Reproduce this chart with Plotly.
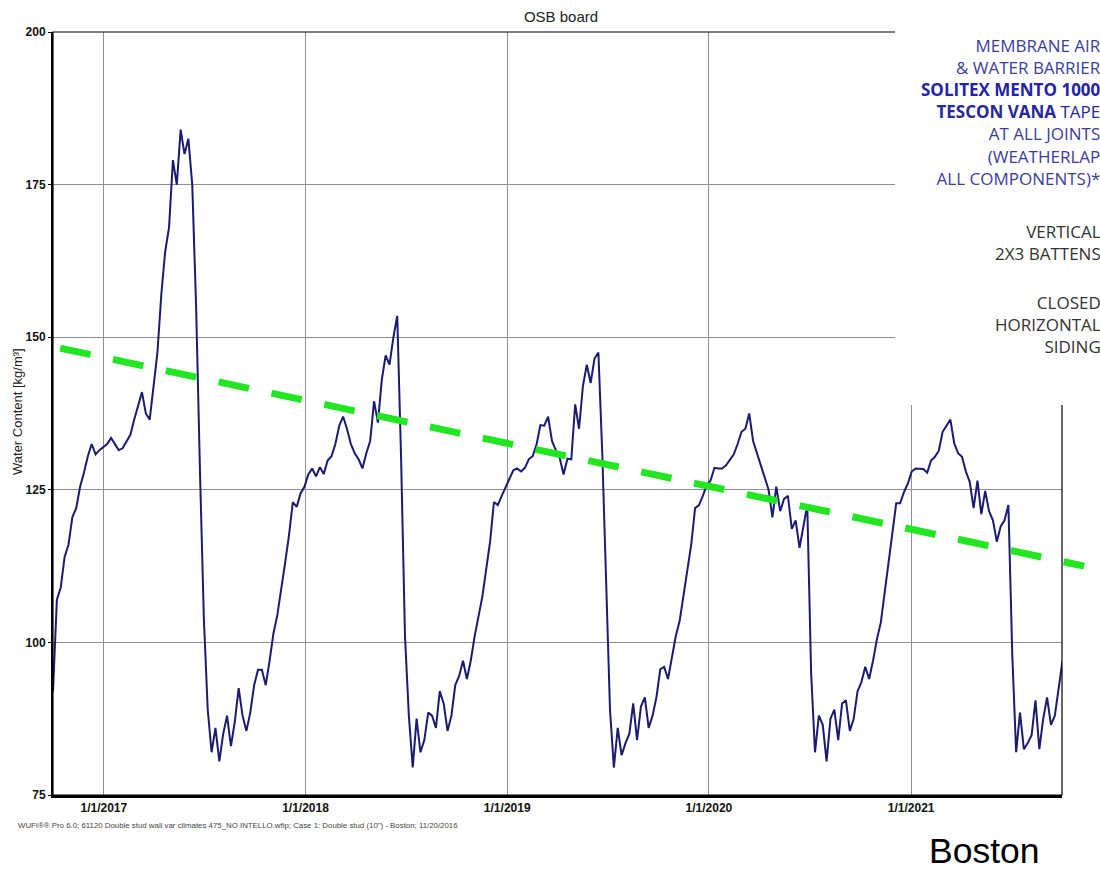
import pandas as pd
import plotly.graph_objects as go

# ---------------- data ----------------
start_date = "2016-10-01"
end_date = "2021-10-01"

# weekly readings of OSB board water content [kg/m3], starting 2016-10-01
water_content = [
    92, 107, 109, 114, 116, 120.5, 122, 125.5, 127.8, 130.5, 132.5, 130.8, 131.5,
    132, 132.5, 133.5, 132.4, 131.5, 131.8, 133, 134, 136.5, 138.8, 141, 137.5, 136.5,
    142, 147.5, 157, 164, 168, 179, 175, 184, 180, 182.5, 175, 155, 128,
    104, 89, 82, 86, 80.5, 85, 88, 83, 87, 92.5, 88, 85.5, 88.5,
    93, 95.5, 95.5, 93, 97, 101.5, 104.5, 108.5, 113, 117.5, 123, 122.2, 124.4,
    125.5, 127.5, 128.5, 127.2, 128.7, 127.6, 129.8, 130.5, 132.5, 135.5, 137, 135, 132.5,
    131, 130, 128.5, 131, 133, 139.5, 136, 143, 147, 145.5, 150, 153.5, 130,
    101, 88, 79.5, 87.5, 82, 84, 88.5, 88, 86, 92, 90, 85.5, 88,
    93, 94.5, 97, 94, 97, 101, 104, 107.5, 112, 116.5, 123, 122.5, 124,
    125.5, 126.8, 128.2, 128.5, 128, 128.6, 130, 130.5, 132.4, 135.6, 135.5, 137, 133,
    131.5, 130.2, 127.5, 130.1, 130, 139, 135, 142, 145.5, 142.5, 146.5, 147.5, 131,
    109, 89, 79.5, 86, 81.5, 83.5, 85, 90, 84, 89.5, 91, 86, 88,
    91, 95.6, 96, 94, 97.5, 101, 103.5, 107.6, 111.3, 116, 122, 122.5, 124,
    125.7, 126.5, 128.6, 128.5, 128.5, 129, 130, 130.8, 132.5, 134.5, 135, 137.5, 133,
    131, 129.3, 127, 125, 120.5, 125.5, 121.5, 123.5, 124, 118.6, 120, 115.5, 119,
    122.5, 95, 82, 88, 86.5, 80.5, 87.5, 89, 84, 90, 90.5, 85.5, 87.5,
    92, 93.5, 96, 94, 97, 100.5, 103.2, 108, 113, 117.5, 122.8, 122.8, 124.6,
    126, 128, 128.5, 128.5, 128.4, 127.8, 129.8, 130.4, 131.4, 134.5, 135.4, 136.5, 132.6,
    131, 130.4, 128, 126.3, 122, 126.5, 121, 124.8, 121.5, 120, 116.5, 119, 120,
    122.5, 98, 82, 88.5, 82.5, 83.5, 84.8, 90.5, 82.5, 87.5, 91, 86.5, 88,
    92.5, 97,
]
dates = pd.date_range(start_date, periods=len(water_content), freq="7D")

# green dashed trend line (end points)
trend_dates = ["2016-10-14", "2021-11-10"]
trend_values = [148.2, 112.5]

left_tick_vals = [75, 100, 125, 150, 175, 200]
right_tick_vals = [75, 100, 125]
right_tick_text = ["12.2", "16.26", "20.33"]

BLUE = "#3d3d99"
BLUE_BOLD = "#2323a8"
GRAY = "#333333"
panel_blocks = [
    ([("MEMBRANE AIR", BLUE, False),
      ("& WATER BARRIER", BLUE, False),
      ("SOLITEX MENTO 1000", BLUE_BOLD, True),
      ("TESCON VANA| TAPE", "#27279a", True),
      ("AT ALL JOINTS", BLUE, False),
      ("(WEATHERLAP", BLUE, False),
      ("ALL COMPONENTS)*", BLUE, False)], 111.5),
    ([("VERTICAL", GRAY, False),
      ("2X3 BATTENS", GRAY, False)], 242),
    ([("CLOSED", GRAY, False),
      ("HORIZONTAL", GRAY, False),
      ("SIDING", GRAY, False)], 324.5),
]
footer_text = ('WUFI®® Pro 6.0; 61120 Double stud wall var climates 475_NO INTELLO.wfip; '
               'Case 1: Double stud (10") - Boston; 11/20/2016')

# ---------------- layout geometry ----------------
W, H = 1100, 871
ML, MR, MT, MB = 53, 0, 32, 76
PLOT_RIGHT = 1062
paper_w = W - ML - MR
paper_h = H - MT - MB
x_dom_end = (PLOT_RIGHT - ML) / paper_w


def px(x):
    return (x - ML) / paper_w


def py(y):
    return (H - MB - y) / paper_h


t0 = pd.Timestamp(start_date)
t1 = pd.Timestamp(end_date)
ext_end = t0 + (t1 - t0) / x_dom_end

FONT = "Liberation Sans, Arial, sans-serif"
GRID = "#8f8f8f"
TICKFONT = dict(size=12, color="#111111", family=FONT, weight="bold")

fig = go.Figure()
fig.add_trace(go.Scatter(
    x=dates, y=water_content, mode="lines",
    line=dict(color="#1b1b72", width=2),
    xaxis="x", yaxis="y", showlegend=False, hoverinfo="skip",
))
fig.add_trace(go.Scatter(
    x=trend_dates, y=trend_values, mode="lines",
    line=dict(color="#22e622", width=7, dash="31px,23px"),
    xaxis="x3", yaxis="y3", showlegend=False, hoverinfo="skip",
))

fig.update_layout(
    width=W, height=H,
    margin=dict(l=ML, r=MR, t=MT, b=MB, pad=0),
    paper_bgcolor="white", plot_bgcolor="rgba(0,0,0,0)",
    font=dict(family=FONT, color="#111111"),
    title=dict(text="OSB board", x=561 / W, y=1 - 17 / H, xanchor="center",
               yanchor="middle", xref="container", yref="container",
               font=dict(size=15, family=FONT, color="#222222")),
    xaxis=dict(
        domain=[0, x_dom_end], anchor="y", type="date",
        range=[start_date, end_date],
        tick0="2017-01-01", dtick="M12", tickformat="%-m/%-d/%Y",
        showgrid=True, gridcolor=GRID, gridwidth=1, zeroline=False,
        showline=True, linecolor="black", linewidth=3,
        ticks="", tickfont=TICKFONT,
    ),
    yaxis=dict(
        domain=[0, 1], anchor="x", range=[75, 200],
        tickvals=left_tick_vals,
        showgrid=True, gridcolor=GRID, gridwidth=1, zeroline=False,
        showline=True, linecolor="black", linewidth=2,
        ticks="outside", ticklen=3, tickcolor="black",
        tickfont=TICKFONT,
    ),
    yaxis2=dict(
        overlaying="y", side="right", anchor="x", range=[75, 200],
        tickvals=right_tick_vals, ticktext=right_tick_text,
        showgrid=False, zeroline=False,
        showline=True, linecolor="black", linewidth=1.5,
        ticks="outside", ticklen=2, tickcolor="black",
        tickfont=dict(size=11.5, color="#111111", family=FONT, weight="bold"),
    ),
    xaxis3=dict(domain=[0, 1], anchor="y3", type="date",
                range=[t0, ext_end], visible=False),
    yaxis3=dict(domain=[0, 1], anchor="x3", range=[75, 200], visible=False),
)

# frame (top / right border) and the white text panel covering the upper right
fig.add_shape(type="rect", xref="x domain", yref="y domain", x0=0, x1=1, y0=0, y1=1,
              line=dict(color="black", width=1.2), layer="above")
fig.add_shape(type="rect", xref="paper", yref="paper",
              x0=px(895), x1=px(W + 20), y0=py(405), y1=py(-20),
              fillcolor="white", line=dict(width=0), layer="above")

annotations = []
annotations.append(dict(
    text="Water Content [kg/m³]", textangle=-90, xref="paper", yref="paper",
    x=px(17), y=py(412), xanchor="center", yanchor="middle", showarrow=False,
    font=dict(size=13, family=FONT, color="#222222"),
))
annotations.append(dict(
    text=footer_text, xref="paper", yref="paper", x=px(16), y=py(825),
    xanchor="left", yanchor="middle", showarrow=False,
    font=dict(size=7.85, family=FONT, color="#444444"),
))
annotations.append(dict(
    text="Boston", xref="paper", yref="paper", x=px(984), y=py(851),
    xanchor="center", yanchor="middle", showarrow=False,
    font=dict(size=35.5, family=FONT, color="black"),
))


def fmt_line(text, color, bold):
    if bold and "|" in text:
        b, rest = text.split("|", 1)
        return f'<span style="color:{color}"><b>{b}</b>{rest}</span>'
    if bold:
        return f'<span style="color:{color}"><b>{text}</b></span>'
    return f'<span style="color:{color}">{text}</span>'


for lines, yc in panel_blocks:
    annotations.append(dict(
        text="<br>".join(fmt_line(*ln) for ln in lines),
        xref="paper", yref="paper", x=px(1103), y=py(yc),
        xanchor="right", yanchor="middle", align="right", showarrow=False,
        font=dict(size=17, family="Open Sans, Lato, sans-serif", color=GRAY),
    ))
fig.update_layout(annotations=annotations)

fig.write_html(
    "out.html",
    config={"displayModeBar": False},
    post_script="document.body.style.margin='0';document.body.style.overflow='hidden';",
)
